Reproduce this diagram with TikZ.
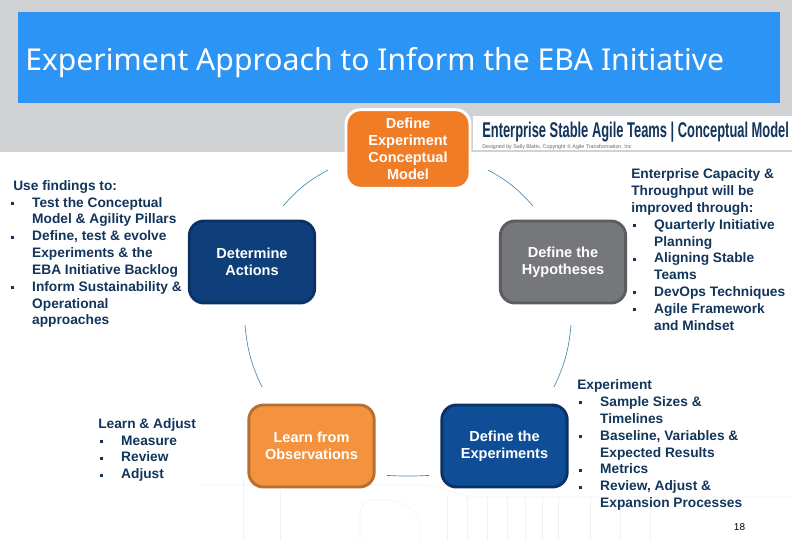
\documentclass[tikz,border=0pt]{standalone}
\usepackage{fontspec}
\setmainfont{Liberation Sans}
\newfontfamily\titlefont{Noto Sans}
\newfontfamily\logofont[FakeStretch=0.605]{Liberation Sans Bold}
\usetikzlibrary{positioning, calc}
\definecolor{headblue}{RGB}{43, 148, 245}
\definecolor{bandgrey}{RGB}{208, 210, 211}
\definecolor{inknavy}{RGB}{18, 53, 91}
\definecolor{stepteal}{RGB}{70, 140, 170}
\definecolor{topfill}{RGB}{240, 124, 38}
\definecolor{navyfill}{RGB}{15, 63, 122}
\definecolor{navyedge}{RGB}{11, 50, 100}
\definecolor{bluefill}{RGB}{15, 78, 150}
\definecolor{greyfill}{RGB}{117, 119, 123}
\definecolor{greyedge}{RGB}{92, 93, 98}
\definecolor{sandfill}{RGB}{245, 146, 62}
\definecolor{sandedge}{RGB}{181, 111, 48}
\newcommand{\itemdot}{\makebox[17.2pt][l]{\hspace{1.6pt}\rule[1.6pt]{1.6pt}{2.2pt}}}
\newcommand{\itemgap}{\hspace*{17.2pt}}
\tikzset{
  stepbox/.style={rounded corners=11pt, line width=2.2pt, minimum width=94pt, minimum height=61.5pt, align=center, text=white, font=\fontsize{10.9}{12.75}\selectfont\bfseries},
  notetext/.style={anchor=north west, align=left, text=inknavy, inner sep=0pt, font=\fontsize{10.3}{12.62}\selectfont\bfseries},
  cycleline/.style={draw=stepteal, line width=0.5pt},
  faintline/.style={draw=black!5, line width=0.4pt}
}

\begin{document}
\begin{tikzpicture}[x=0.75pt, y=-0.75pt]
  \useasboundingbox (0,0) rectangle (792,540);

  % Header band and title
  \fill[bandgrey] (0,0) rectangle (792,152);
  \fill[headblue] (18,12) rectangle (780,103);
  \node[anchor=west, inner sep=0pt, text=white, font=\titlefont\fontsize{22.6}{26}\selectfont] (title) at (25,62.5) {Experiment Approach to Inform the EBA Initiative};

  % Logo strip
  \fill[white] (473,116) rectangle (792,150);
  \node[anchor=west, inner sep=0pt, text=inknavy, font=\logofont\fontsize{16}{18}\selectfont] (logo) at (482,132) {Enterprise Stable Agile Teams | Conceptual Model};
  \node[anchor=west, inner sep=0pt, text=black!60, font=\fontsize{4}{5}\selectfont] (credit) at (482,147) {Designed by Sally Blatts, Copyright \textcopyright{} Agile Transformation, Inc};

  % Faint mark behind the lower part
  \draw[faintline] (200,485) -- (420,485) .. controls (450,485) and (450,497) .. (480,497) -- (792,497);
  \draw[faintline] (243,540) -- (243,480) (280,540) -- (280,490);
  \draw[faintline, rounded corners=10pt] (360,540) -- (360,500) -- (400,500) -- (420,515) -- (420,540);
  \foreach \gx in {447,467,487,507,525,542,558,590,620,650}
    \draw[faintline] (\gx,497) -- (\gx,540);

  % Cycle steps
  \node[stepbox, draw=white, fill=topfill, minimum width=93pt, minimum height=59pt] (concept) at (408,149) {Define\\Experiment\\Conceptual\\Model};
  \node[stepbox, draw=greyedge, fill=greyfill] (hypo) at (563,262) {Define the\\Hypotheses};
  \node[stepbox, draw=navyedge, fill=bluefill] (expt) at (504.5,446) {Define the\\Experiments};
  \node[stepbox, draw=sandedge, fill=sandfill] (learn) at (311.5,446) {Learn from\\Observations};
  \node[stepbox, draw=navyedge, fill=navyfill] (actions) at (252,262) {Determine\\Actions};

  % Free ends of the cycle arcs
  \coordinate (a1) at (488,170);
  \coordinate (a2) at (533,206);
  \coordinate (b1) at (571,325);
  \coordinate (b2) at (554,387);
  \coordinate (c1) at (429,475.4);
  \coordinate (c2) at (387,475.4);
  \coordinate (d1) at (262,387);
  \coordinate (d2) at (245,325);
  \coordinate (e1) at (283,206);
  \coordinate (e2) at (328,170);
  \draw[cycleline] (a1) to[bend left=10] (a2);
  \draw[cycleline] (b1) to[bend left=10] (b2);
  \draw[cycleline] (c1) to[bend left=3] (c2);
  \draw[cycleline] (d1) to[bend left=10] (d2);
  \draw[cycleline] (e1) to[bend left=10] (e2);

  % Notes beside the steps
  \node[notetext] (usenote) at (13,180) {Use findings to:\\
    \hspace*{-3pt}\itemdot Test the Conceptual\\
    \hspace*{-3pt}\itemgap Model  \& Agility Pillars\\
    \hspace*{-3pt}\itemdot Define, test \& evolve\\
    \hspace*{-3pt}\itemgap Experiments \& the\\
    \hspace*{-3pt}\itemgap EBA Initiative Backlog\\
    \hspace*{-3pt}\itemdot Inform Sustainability \&\\
    \hspace*{-3pt}\itemgap Operational\\
    \hspace*{-3pt}\itemgap approaches};
  \node[notetext] (learnnote) at (98,418) {Learn \& Adjust\\
    \itemdot Measure\\
    \itemdot Review\\
    \itemdot Adjust};
  \node[notetext] (capnote) at (631,168.5) {Enterprise Capacity \&\\
    Throughput will be\\
    improved through:\\
    \itemdot Quarterly Initiative\\
    \itemgap Planning\\
    \itemdot Aligning Stable\\
    \itemgap Teams\\
    \itemdot DevOps Techniques\\
    \itemdot Agile Framework\\
    \itemgap and Mindset};
  \node[notetext] (exptnote) at (577,379.5) {Experiment\\
    \itemdot Sample Sizes \&\\
    \itemgap Timelines\\
    \itemdot Baseline, Variables \&\\
    \itemgap Expected Results\\
    \itemdot Metrics\\
    \itemdot Review, Adjust \&\\
    \itemgap Expansion Processes};

  \node[inner sep=0pt, text=black, font=\fontsize{7.5}{9}\selectfont] (pagenum) at (739.5,527) {18};
\end{tikzpicture}
\end{document}
